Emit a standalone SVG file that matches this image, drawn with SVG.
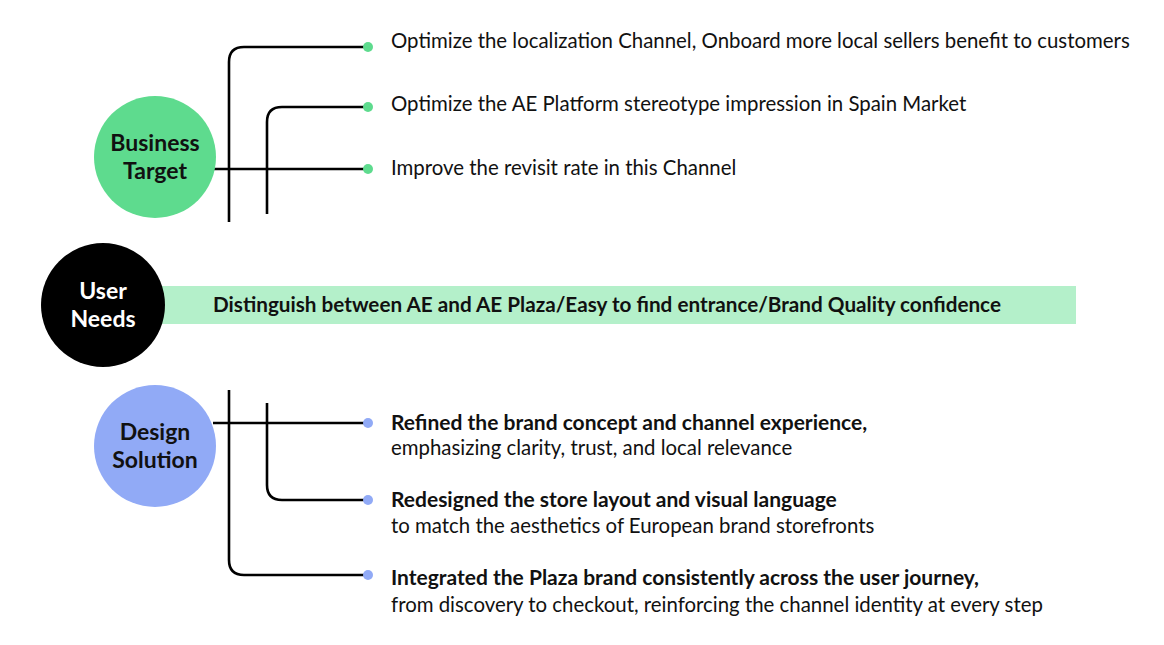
<svg xmlns="http://www.w3.org/2000/svg" width="1164" height="645" viewBox="0 0 1164 645">
<style>
.ln{fill:none;stroke:#000;stroke-width:2.6}
.t{font-family:Lato,"Noto Sans",sans-serif;font-size:20.4px;fill:#111}
.b{font-weight:bold;font-size:21px}
.c{font-family:Lato,"Noto Sans",sans-serif;font-size:23px;font-weight:bold;text-anchor:middle}
.g{fill:#5edb8e}
.p{fill:#91aaf6}
</style>
<rect width="1164" height="645" fill="#fff"/>
<g id="connectors">
<path class="ln" d="M229 222 V62 Q229 47 244 47 H368"/>
<path class="ln" d="M267 214 V122 Q267 107 282 107 H368"/>
<path class="ln" d="M214 169 H368"/>
<path class="ln" d="M229 390 V560 Q229 575 244 575 H368"/>
<path class="ln" d="M267 403 V485 Q267 500 282 500 H368"/>
<path class="ln" d="M213 423 H368"/>
<circle class="g" cx="368" cy="47" r="5"/>
<circle class="g" cx="368" cy="107" r="5"/>
<circle class="g" cx="368" cy="169" r="5"/>
<circle class="p" cx="368" cy="423" r="5"/>
<circle class="p" cx="368" cy="500" r="5"/>
<circle class="p" cx="368" cy="575" r="5"/>
</g>
<g id="business-target">
<circle class="g" cx="155" cy="157" r="61"/>
<text class="c" x="155" y="151" fill="#111">Business</text>
<text class="c" x="155" y="179" fill="#111">Target</text>
</g>
<g id="user-needs">
<rect x="160" y="286" width="916" height="38" fill="#b4f0ca"/>
<circle cx="103" cy="305" r="62" fill="#000"/>
<text class="c" x="103" y="299" fill="#fff">User</text>
<text class="c" x="103" y="327" fill="#fff">Needs</text>
<text class="t b" x="607" y="312" text-anchor="middle" style="font-size:20.7px">Distinguish between AE and AE Plaza/Easy to find entrance/Brand Quality confidence</text>
</g>
<g id="design-solution">
<circle class="p" cx="155" cy="446" r="61"/>
<text class="c" x="155" y="440" fill="#111">Design</text>
<text class="c" x="155" y="468" fill="#111">Solution</text>
</g>
<g id="bt-items">
<text class="t" x="391" y="48">Optimize the localization Channel, Onboard more local sellers benefit to customers</text>
<text class="t" x="391" y="111">Optimize the AE Platform stereotype impression in Spain Market</text>
<text class="t" x="391" y="175">Improve the revisit rate in this Channel</text>
</g>
<g id="ds-items">
<text class="t b" x="391" y="430">Refined the brand concept and channel experience,</text>
<text class="t" x="391" y="455">emphasizing clarity, trust, and local relevance</text>
<text class="t b" x="391" y="507">Redesigned the store layout and visual language</text>
<text class="t" x="391" y="533">to match the aesthetics of European brand storefronts</text>
<text class="t b" x="391" y="585">Integrated the Plaza brand consistently across the user journey,</text>
<text class="t" x="391" y="612">from discovery to checkout, reinforcing the channel identity at every step</text>
</g>
</svg>
